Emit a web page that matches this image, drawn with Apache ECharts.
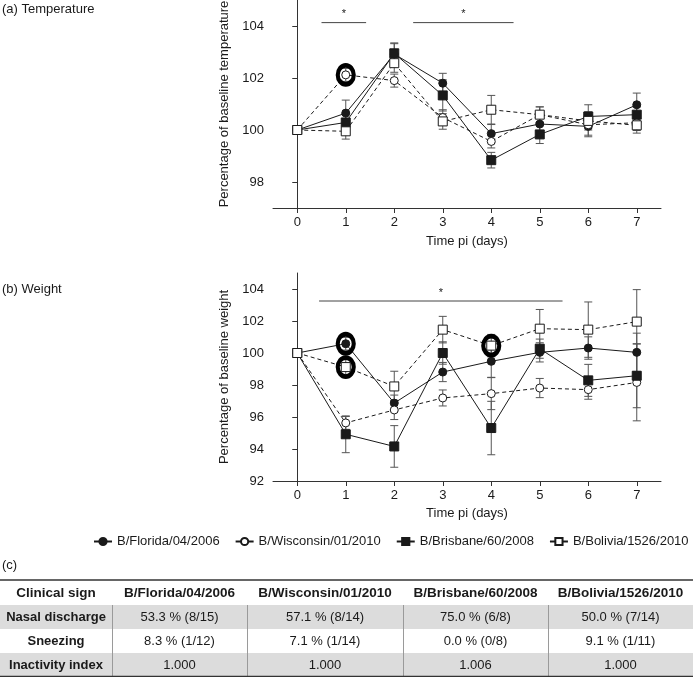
<!DOCTYPE html>
<html><head><meta charset="utf-8">
<script src="https://cdn.jsdelivr.net/npm/echarts@6/dist/echarts.min.js"></script>
<style>html,body{margin:0;padding:0;background:#fff}#chart{width:693px;height:677px}</style>
</head><body><div id="chart"></div>
<script>
// ---------- data ----------
const days = [0, 1, 2, 3, 4, 5, 6, 7];
const dayTicks = [0, 1, 2, 3, 4, 5, 6, 7];
const strainNames = ['B/Florida/04/2006', 'B/Wisconsin/01/2010', 'B/Brisbane/60/2008', 'B/Bolivia/1526/2010'];

const tempFlorida   = [100, 100.65, 102.92, 101.80, 99.86, 100.23, 100.14, 100.97];
const tempWisconsin = [100, 102.12, 101.90, 100.48, 99.56, 100.59, 100.20, 100.28];
const tempBrisbane  = [100, 100.29, 102.95, 101.33, 98.84, 99.83, 100.52, 100.59];
const tempBolivia   = [100, 99.95, 102.57, 100.33, 100.78, 100.59, 100.35, 100.18];
const tempErrFlorida   = [0, 0.50, 0.40, 0.38, 0.35, 0.30, 0.40, 0.45];
const tempErrWisconsin = [0, 0.25, 0.25, 0.30, 0.25, 0.30, 0.40, 0.30];
const tempErrBrisbane  = [0, 0.35, 0.40, 0.60, 0.30, 0.35, 0.45, 0.30];
const tempErrBolivia   = [0, 0.30, 0.35, 0.30, 0.55, 0.30, 0.35, 0.30];

const weightFlorida   = [100, 100.58, 96.87, 98.81, 99.48, 100.04, 100.31, 100.04];
const weightWisconsin = [100, 95.63, 96.44, 97.19, 97.46, 97.81, 97.71, 98.16];
const weightBrisbane  = [100, 94.92, 94.16, 100.00, 95.31, 100.27, 98.29, 98.58];
const weightBolivia   = [100, 99.12, 97.91, 101.46, 100.46, 101.52, 101.46, 101.96];
const weightErrFlorida   = [0, 0.40, 0.50, 0.60, 1.00, 0.60, 0.70, 1.20];
const weightErrWisconsin = [0, 0.40, 0.60, 0.50, 1.00, 0.60, 0.60, 2.40];
const weightErrBrisbane  = [0, 1.15, 1.30, 0.70, 1.67, 0.60, 1.00, 2.00];
const weightErrBolivia   = [0, 0.50, 0.95, 0.83, 0.70, 1.20, 1.73, 2.00];

const tempTicks = [98, 100, 102, 104];
const weightTicks = [92, 94, 96, 98, 100, 102, 104];

// significance bars: [fromDay, toDay, level]
const sigTemp = [[0.5, 1.42, 104.13], [2.39, 4.46, 104.13]];
const sigWeight = [[0.45, 5.47, 103.25]];
// highlighted points: [day, strain index]
const ringsTemp = [[1, 1]];
const ringsWeight = [[1, 0], [1, 3], [4, 3]];

const tableHeader = ['Clinical sign', 'B/Florida/04/2006', 'B/Wisconsin/01/2010', 'B/Brisbane/60/2008', 'B/Bolivia/1526/2010'];
const tableRows = [
  ['Nasal discharge', '53.3 % (8/15)', '57.1 % (8/14)', '75.0 % (6/8)', '50.0 % (7/14)'],
  ['Sneezing', '8.3 % (1/12)', '7.1 % (1/14)', '0.0 % (0/8)', '9.1 % (1/11)'],
  ['Inactivity index', '1.000', '1.000', '1.006', '1.000']
];

// ---------- styling ----------
const FONT = '"Liberation Sans", Arial, sans-serif';
const INK = '#1a1a1a';
const strainStyle = [
  { symbol: 'circle', fill: INK, dash: 'solid', size: 8 },
  { symbol: 'circle', fill: '#fff', dash: [4, 3], size: 8 },
  { symbol: 'rect', fill: INK, dash: 'solid', size: 9 },
  { symbol: 'rect', fill: '#fff', dash: [4, 3], size: 9 }
];
const tempVals = [tempFlorida, tempWisconsin, tempBrisbane, tempBolivia];
const tempErrs = [tempErrFlorida, tempErrWisconsin, tempErrBrisbane, tempErrBolivia];
const weightVals = [weightFlorida, weightWisconsin, weightBrisbane, weightBolivia];
const weightErrs = [weightErrFlorida, weightErrWisconsin, weightErrBrisbane, weightErrBolivia];

function lineSeries(gi, k, vals) {
  const s = strainStyle[k];
  return {
    type: 'line', name: strainNames[k], xAxisIndex: gi, yAxisIndex: gi, z: 3,
    data: days.map((d, i) => [d, vals[i]]),
    symbol: s.symbol, symbolSize: s.size, showSymbol: true,
    lineStyle: { color: INK, width: 1, type: s.dash },
    itemStyle: { color: s.fill, borderColor: INK, borderWidth: 1, opacity: 1 },
    emphasis: { disabled: true }, animation: false
  };
}
function errSeries(gi, vals, errs) {
  return {
    type: 'custom', xAxisIndex: gi, yAxisIndex: gi, z: 2, silent: true, animation: false,
    encode: { x: 0, y: [1, 2] },
    data: days.map((d, i) => [d, vals[i] - errs[i], vals[i] + errs[i]]),
    renderItem(params, api) {
      if (api.value(2) - api.value(1) <= 0) return null;
      const lo = api.coord([api.value(0), api.value(1)]);
      const hi = api.coord([api.value(0), api.value(2)]);
      const w = 4, st = { stroke: '#555', lineWidth: 1 };
      return { type: 'group', children: [
        { type: 'line', shape: { x1: lo[0], y1: lo[1], x2: hi[0], y2: hi[1] }, style: st },
        { type: 'line', shape: { x1: lo[0] - w, y1: lo[1], x2: lo[0] + w, y2: lo[1] }, style: st },
        { type: 'line', shape: { x1: hi[0] - w, y1: hi[1], x2: hi[0] + w, y2: hi[1] }, style: st }
      ]};
    }
  };
}
function sigSeries(gi, bars) {
  return {
    type: 'custom', xAxisIndex: gi, yAxisIndex: gi, z: 2, silent: true, animation: false,
    encode: { x: [0, 1], y: 2 },
    data: bars,
    renderItem(params, api) {
      const a = api.coord([api.value(0), api.value(2)]);
      const b = api.coord([api.value(1), api.value(2)]);
      return { type: 'group', children: [
        { type: 'line', shape: { x1: a[0], y1: a[1], x2: b[0], y2: b[1] }, style: { stroke: '#444', lineWidth: 1 } },
        { type: 'text', x: (a[0] + b[0]) / 2, y: a[1] - 3, style: { text: '*', fill: INK, fontSize: 11, fontFamily: FONT, align: 'center', verticalAlign: 'bottom' } }
      ]};
    }
  };
}
function ringSeries(gi, rings, valsArr) {
  return {
    type: 'scatter', xAxisIndex: gi, yAxisIndex: gi, z: 5, silent: true, animation: false,
    data: rings.map(r => [r[0], valsArr[r[1]][days.indexOf(r[0])]]),
    symbol: 'circle', symbolSize: [16, 19],
    itemStyle: { color: 'rgba(0,0,0,0)', borderColor: '#000', borderWidth: 4.5, opacity: 1 }
  };
}

function xAxis(gi) {
  return {
    type: 'value', gridIndex: gi, min: -0.5, max: 7.5,
    name: 'Time pi (days)', nameLocation: 'middle', nameGap: gi === 0 ? 27 : 26,
    nameTextStyle: { fontSize: 13, color: INK, fontFamily: FONT },
    axisLine: { show: true, lineStyle: { color: '#333', width: 1 } },
    axisTick: { show: true, length: 5, customValues: dayTicks, lineStyle: { color: '#333' } },
    axisLabel: { customValues: dayTicks, fontSize: 13, color: INK, margin: 8, fontFamily: FONT },
    splitLine: { show: false }
  };
}
function yAxis(gi, name, min, max, ticks) {
  return {
    type: 'value', gridIndex: gi, min, max,
    name, nameLocation: 'middle', nameGap: 38,
    nameTextStyle: { fontSize: 13, color: INK, fontFamily: FONT },
    axisLine: { show: true, lineStyle: { color: '#333', width: 1 } },
    axisTick: { show: true, length: 5, customValues: ticks, lineStyle: { color: '#333' } },
    axisLabel: { customValues: ticks, fontSize: 13, color: INK, margin: 9, fontFamily: FONT },
    splitLine: { show: false }
  };
}

const series = [];
for (let k = 0; k < 4; k++) series.push(errSeries(0, tempVals[k], tempErrs[k]));
for (let k = 0; k < 4; k++) series.push(errSeries(1, weightVals[k], weightErrs[k]));
for (let k = 0; k < 4; k++) series.push(lineSeries(0, k, tempVals[k]));
for (let k = 0; k < 4; k++) series.push(lineSeries(1, k, weightVals[k]));
series.push(sigSeries(0, sigTemp), sigSeries(1, sigWeight));
series.push(ringSeries(0, ringsTemp, tempVals), ringSeries(1, ringsWeight, weightVals));

// ---------- table (graphic) ----------
const colEdges = [0, 112, 247, 403, 548, 693];
const tableTop = 581, rowH = 24;
const graphic = [
  { type: 'text', left: 2, top: 3, style: { text: '(a) Temperature', fontSize: 13, fill: INK, fontFamily: FONT } },
  { type: 'text', left: 2, top: 283, style: { text: '(b) Weight', fontSize: 13, fill: INK, fontFamily: FONT } },
  { type: 'text', left: 2, top: 559, style: { text: '(c)', fontSize: 13, fill: INK, fontFamily: FONT } }
];
tableRows.forEach((row, r) => {
  const y0 = tableTop + rowH * (r + 1);
  if (r % 2 === 0) graphic.push({ type: 'rect', shape: { x: 0, y: y0, width: 693, height: rowH }, style: { fill: '#dcdcdc' } });
});
for (let c = 1; c < colEdges.length - 1; c++) {
  graphic.push({ type: 'line', shape: { x1: colEdges[c] + 0.5, y1: tableTop + rowH, x2: colEdges[c] + 0.5, y2: tableTop + rowH * 4 }, style: { stroke: '#9a9a9a', lineWidth: 1 } });
}
graphic.push({ type: 'line', shape: { x1: 0, y1: tableTop - 1, x2: 693, y2: tableTop - 1 }, style: { stroke: '#333', lineWidth: 1.5 } });
graphic.push({ type: 'line', shape: { x1: 0, y1: tableTop + rowH * 4 - 0.5, x2: 693, y2: tableTop + rowH * 4 - 0.5 }, style: { stroke: '#333', lineWidth: 1.5 } });
tableHeader.forEach((t, c) => {
  graphic.push({ type: 'text', x: (colEdges[c] + colEdges[c + 1]) / 2, y: tableTop + rowH / 2,
    style: { text: t, fontSize: 13.5, fontWeight: 'bold', fill: INK, fontFamily: FONT, align: 'center', verticalAlign: 'middle' } });
});
tableRows.forEach((row, r) => {
  row.forEach((t, c) => {
    graphic.push({ type: 'text', x: (colEdges[c] + colEdges[c + 1]) / 2, y: tableTop + rowH * (r + 1) + rowH / 2,
      style: { text: t, fontSize: 13, fontWeight: c === 0 ? 'bold' : 'normal', fill: INK, fontFamily: FONT, align: 'center', verticalAlign: 'middle' } });
  });
});

const chart = echarts.init(document.getElementById('chart'), null, { renderer: 'canvas' });
chart.setOption({
  animation: false,
  backgroundColor: '#fff',
  textStyle: { fontFamily: FONT },
  grid: [
    { left: 273, top: 0, width: 388, height: 208, outerBoundsMode: 'none', containLabel: false },
    { left: 273, top: 273, width: 388, height: 208, outerBoundsMode: 'none', containLabel: false }
  ],
  xAxis: [xAxis(0), xAxis(1)],
  yAxis: [
    yAxis(0, 'Percentage of baseline temperature', 97, 105, tempTicks),
    yAxis(1, 'Percentage of baseline weight', 92, 105, weightTicks)
  ],
  legend: {
    data: strainNames, left: 93, top: 535, width: 600, padding: 0, itemGap: 15, itemWidth: 18, itemHeight: 9,
    textStyle: { fontSize: 13, color: INK, fontFamily: FONT },
    lineStyle: { type: 'solid' }, selectedMode: false
  },
  series,
  graphic
});
</script></body></html>
